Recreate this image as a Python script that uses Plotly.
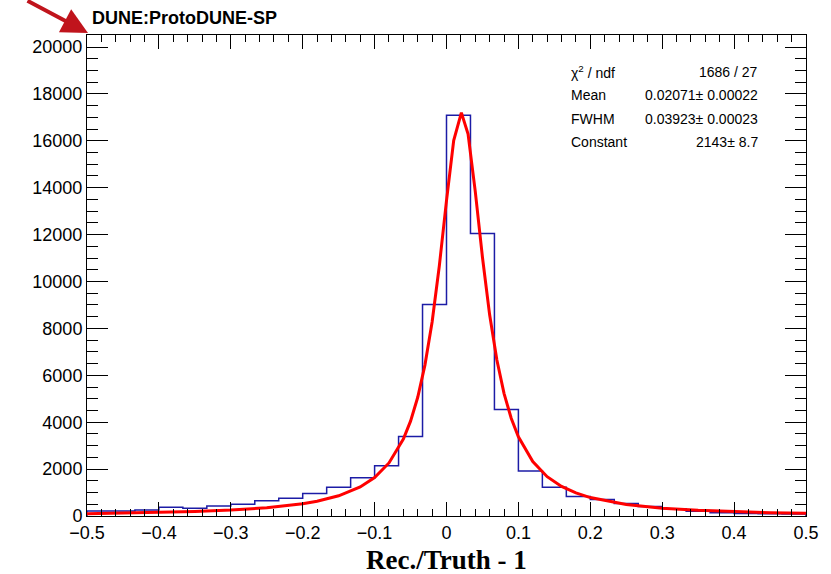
import numpy as np
import plotly.graph_objects as go

# ---- data ----
bin_edges_lo = -0.5
bin_edges_hi = 0.5
n_bins = 30
counts = [215, 215, 260, 370, 330, 430, 500, 645, 760, 960,
          1230, 1630, 2140, 3390, 9020, 17090, 12050, 4540, 1920, 1230,
          830, 700, 535, 400, 310, 200, 140, 110, 100, 90]

fit_x = [-0.5, -0.45, -0.4, -0.35, -0.3, -0.25, -0.2, -0.18, -0.15, -0.12, -0.1, -0.08,
         -0.06, -0.05, -0.04, -0.03, -0.02, -0.01, 0.0, 0.01, 0.0207, 0.03, 0.04,
         0.05, 0.06, 0.07, 0.08, 0.09, 0.1, 0.12, 0.14, 0.16, 0.18, 0.2, 0.25,
         0.3, 0.35, 0.4, 0.45, 0.5]
fit_y = [97, 118, 148, 190, 253, 353, 526, 632, 862, 1239, 1641, 2263,
         3283, 4044, 5062, 6435, 8277, 10661, 13450, 16008, 17200, 16283, 13845,
         11035, 8579, 6662, 5230, 4170, 3378, 2319, 1676, 1262, 982, 785, 489,
         332, 240, 182, 142, 114]

x_tickvals = [-0.5, -0.4, -0.3, -0.2, -0.1, 0, 0.1, 0.2, 0.3, 0.4, 0.5]
x_ticktext = ["\u22120.5", "\u22120.4", "\u22120.3", "\u22120.2", "\u22120.1",
              "0", "0.1", "0.2", "0.3", "0.4", "0.5"]
y_tickvals = [0, 2000, 4000, 6000, 8000, 10000, 12000, 14000, 16000, 18000, 20000]
y_ticktext = ["0", "2000", "4000", "6000", "8000", "10000", "12000", "14000",
              "16000", "18000", "20000"]

stat_labels = ["\u03c7<sup>2</sup> / ndf", "Mean", "FWHM", "Constant"]
stat_values = ["1686 / 27", "0.02071\u00b1 0.00022", "0.03923\u00b1 0.00023", "2143\u00b1 8.7"]

# ---- build ----
edges = np.linspace(bin_edges_lo, bin_edges_hi, n_bins + 1)
hx = [edges[0]] + list(edges[:-1]) + [edges[-1], edges[-1]]
hy = [0] + counts + [counts[-1], 0]

FONT = "Liberation Sans, Arial, Helvetica, sans-serif"

fig = go.Figure()
fig.add_trace(go.Scatter(x=hx, y=hy, mode="lines", line=dict(shape="hv", color="#1c1ca6", width=1.5),
                         hoverinfo="skip", showlegend=False))
fig.add_trace(go.Scatter(x=fit_x, y=fit_y, mode="lines", line=dict(color="#ff0000", width=3),
                         showlegend=False))

L, R, T, B = 87, 20, 35, 58
W, H = 831, 574
pw, ph = W - L - R, H - T - B

def px(xp):
    return (xp - L) / pw

def py(yp):
    return (H - B - yp) / ph

fig.update_layout(
    width=W, height=H,
    margin=dict(l=L, r=R, t=T, b=B),
    paper_bgcolor="white", plot_bgcolor="white",
    font=dict(family=FONT, color="black", size=18),
    xaxis=dict(range=[-0.5, 0.5], tickvals=x_tickvals, ticktext=x_ticktext,
               ticks="inside", ticklen=14, tickwidth=1, tickcolor="black",
               showline=True, linecolor="black", linewidth=1, mirror="ticks",
               showgrid=False, zeroline=False, tickfont=dict(size=18),
               minor=dict(dtick=0.02, ticks="inside", ticklen=7, tickcolor="black", showgrid=False)),
    yaxis=dict(range=[0, 20512], tickvals=y_tickvals, ticktext=y_ticktext,
               ticks="inside", ticklen=21, tickwidth=1, tickcolor="black",
               showline=True, linecolor="black", linewidth=1, mirror="ticks",
               showgrid=False, zeroline=False, tickfont=dict(size=18),
               minor=dict(dtick=500, ticks="inside", ticklen=11, tickcolor="black", showgrid=False)),
)

ann = []
# top label
ann.append(dict(x=px(90), y=py(18), xref="paper", yref="paper", text="<b>DUNE:ProtoDUNE-SP</b>",
                showarrow=False, xanchor="left", yanchor="middle", font=dict(size=18, family=FONT)))
# x axis title
ann.append(dict(x=0.5, y=py(560), xref="paper", yref="paper", text="<b>Rec./Truth - 1</b>",
                showarrow=False, xanchor="center", yanchor="middle",
                font=dict(size=27, family="Liberation Serif, Times New Roman, serif")))
# stat box
rows_y = [72, 95, 119, 142]
for lab, val, yy in zip(stat_labels, stat_values, rows_y):
    ann.append(dict(x=px(572), y=py(yy), xref="paper", yref="paper", text=lab, showarrow=False,
                    xanchor="left", yanchor="middle", font=dict(size=14, family=FONT)))
    ann.append(dict(x=px(765), y=py(yy), xref="paper", yref="paper", text=val, showarrow=False,
                    xanchor="right", yanchor="middle", font=dict(size=14, family=FONT)))
# arrow
ann.append(dict(x=px(88), y=py(33), xref="paper", yref="paper", text="", showarrow=True,
                ax=-62, ay=-40, arrowhead=2, arrowsize=1.3, arrowwidth=4, arrowcolor="#c0141c"))
fig.update_layout(annotations=ann)

fig.write_html("out.html")
